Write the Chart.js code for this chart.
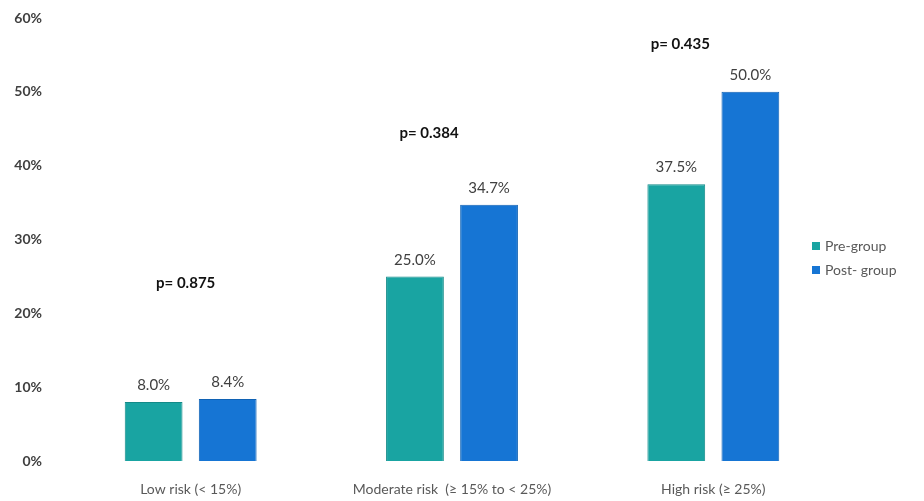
<!DOCTYPE html>
<html>
<head>
<meta charset="utf-8">
<script src="https://cdn.jsdelivr.net/npm/chart.js@4"></script>
<style>
  html, body { margin: 0; padding: 0; background: #fff; }
  #wrap { width: 924px; height: 501px; position: relative; }
</style>
</head>
<body>
<div id="wrap"><canvas id="chart"></canvas></div>
<script>
const categories = ['Low risk (< 15%)', 'Moderate risk  (\u2265 15% to < 25%)', 'High risk (\u2265 25%)'];
const preGroup = [8.0, 25.0, 37.5];
const postGroup = [8.4, 34.7, 50.0];
const pValues = ['p= 0.875', 'p= 0.384', 'p= 0.435'];
// height (in % units) where each p value sits
const pLevels = [24.1, 44.4, 56.4];
const yTicks = [0, 10, 20, 30, 40, 50, 60];

const PRE_COLOR = '#19a4a2';
const POST_COLOR = '#1675d4';
const FONT = 'Lato, "Open Sans", sans-serif';

// value labels above bars + p values
const labelPlugin = {
  id: 'labels',
  afterDatasetsDraw(chart) {
    const ctx = chart.ctx;
    const y = chart.scales.y;
    const x = chart.scales.x;
    ctx.save();
    ctx.font = '15px ' + FONT;
    ctx.fillStyle = '#404040';
    ctx.textAlign = 'center';
    ctx.textBaseline = 'bottom';
    chart.data.datasets.forEach((ds, i) => {
      chart.getDatasetMeta(i).data.forEach((bar, j) => {
        ctx.fillText(ds.data[j].toFixed(1) + '%', bar.x, bar.y - 9);
      });
    });
    ctx.font = 'bold 15px ' + FONT;
    ctx.fillStyle = '#111';
    ctx.textBaseline = 'middle';
    const dx = [-5, -23, -33];
    pValues.forEach((p, j) => {
      ctx.fillText(p, x.getPixelForValue(j) + dx[j], y.getPixelForValue(pLevels[j]));
    });
    ctx.restore();
  },
  afterDraw(chart) {
    // legend on the right, drawn over empty space
    const ctx = chart.ctx;
    ctx.save();
    ctx.font = '14px ' + FONT;
    ctx.textBaseline = 'middle';
    ctx.textAlign = 'left';
    const items = [['Pre-group', PRE_COLOR], ['Post- group', POST_COLOR]];
    items.forEach((it, i) => {
      const yy = 246 + i * 24;
      ctx.fillStyle = it[1];
      ctx.fillRect(812, yy - 4, 8, 8);
      ctx.fillStyle = '#595959';
      ctx.fillText(it[0], 825, yy);
    });
    ctx.restore();
  }
};

new Chart(document.getElementById('chart'), {
  type: 'bar',
  data: {
    labels: categories,
    datasets: [
      {
        label: 'Pre-group',
        data: preGroup,
        backgroundColor: PRE_COLOR,
        borderColor: '#138a88',
        borderWidth: 1,
        categoryPercentage: 0.567,
        barPercentage: 0.78,
      },
      {
        label: 'Post- group',
        data: postGroup,
        backgroundColor: POST_COLOR,
        borderColor: '#1062b4',
        borderWidth: 1,
        categoryPercentage: 0.567,
        barPercentage: 0.78,
      },
    ],
  },
  options: {
    responsive: true,
    maintainAspectRatio: false,
    animation: false,
    layout: { padding: { top: 18, right: 80, left: 0, bottom: 0 } },
    plugins: {
      legend: { display: false },
      tooltip: { enabled: false },
    },
    scales: {
      x: {
        grid: { display: false, drawTicks: false },
        border: { display: false },
        ticks: {
          color: '#595959',
          padding: 20,
          font: { family: FONT, size: 14 },
          maxRotation: 0,
        },
        afterFit(scale) { scale.height = 40; },
      },
      y: {
        min: 0,
        max: 60,
        afterBuildTicks(scale) { scale.ticks = yTicks.map((v) => ({ value: v })); },
        grid: { display: false, drawTicks: false },
        border: { display: false },
        ticks: {
          color: '#404040',
          padding: 18,
          font: { family: FONT, size: 14, weight: 'bold' },
          callback: (v) => v + '%',
        },
        afterFit(scale) {
          scale.width = 60;
          scale.paddingTop = 0;
          scale.paddingBottom = 0;
        },
      },
    },
  },
  plugins: [labelPlugin],
});
</script>
</body>
</html>
